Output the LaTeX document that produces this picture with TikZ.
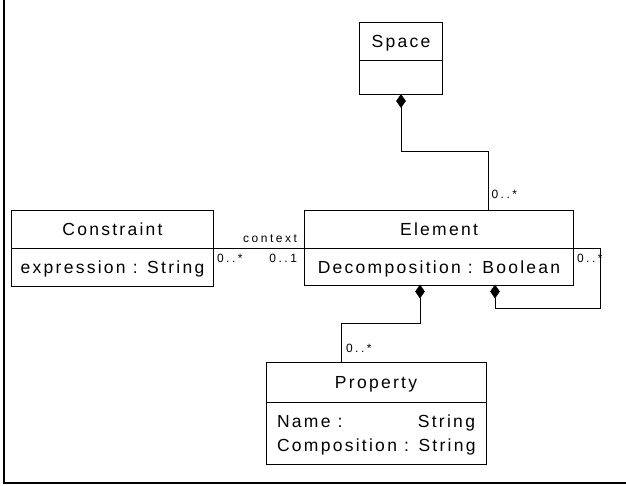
\documentclass[tikz,border=0pt]{standalone}
\usepackage{fontspec}
\setmainfont{Liberation Sans}
\newfontfamily\bigf[LetterSpace=13]{Liberation Sans}
\newfontfamily\smallf[LetterSpace=21]{Liberation Sans}
\usetikzlibrary{shapes.geometric}
\begin{document}
\begin{tikzpicture}[x=1pt,y=-1pt,
  comp/.style={draw, line width=1pt, inner sep=0pt, outer sep=0pt,
    text height=12.5pt, text depth=0pt, font=\bigf\fontsize{17.5}{19}\selectfont},
  attr/.style={inner sep=0pt, outer sep=0pt, font=\bigf\fontsize{17.5}{19}\selectfont},
  lbl/.style={inner sep=0pt, outer sep=0pt, font=\smallf\fontsize{12}{13}\selectfont},
  conn/.style={line width=1pt},
  dmd/.style={diamond, fill=black, draw=black, line width=0.5pt, inner sep=0pt, outer sep=0pt,
    minimum width=9pt, minimum height=13pt, anchor=north}]
\useasboundingbox (0,0) rectangle (626,486);
\fill[white] (0,0) rectangle (626,486);
\draw[line width=2pt] (4,0) -- (4,483) -- (626,483);

% Space
\node[comp, minimum width=83pt, minimum height=38pt] (spaceT) at (401,41.5) {Space};
\node[comp, minimum width=83pt, minimum height=34pt, anchor=north] (spaceB) at (spaceT.south) {};

% Element
\node[comp, minimum width=269pt, minimum height=37.5pt] (elemT) at (439,229.75) {Element};
\node[comp, minimum width=269pt, minimum height=36.5pt, anchor=north] (elemB) at (elemT.south) {Decomposition : Boolean};

% Constraint
\node[comp, minimum width=202pt, minimum height=37.5pt] (consT) at (112.5,229.75) {Constraint};
\node[comp, minimum width=202pt, minimum height=37.5pt, anchor=north] (consB) at (consT.south) {expression : String};

% Property
\node[comp, minimum width=220pt, minimum height=40pt] (propT) at (376,382.5) {Property};
\node[comp, minimum width=220pt, minimum height=61.5pt, anchor=north] (propB) at (propT.south) {};
\node[attr, anchor=base west] (pname) at (277,427.5) {Name :};
\node[attr, anchor=base east] (pstr) at (475,427.5) {String};
\node[attr, anchor=base west] (pcomp) at (277,451.5) {Composition : String};

% multiplicity labels
\node[lbl, anchor=base west] (m1) at (491.5,199) {0..*};
\node[lbl, anchor=base east] (ctx) at (297,242.5) {context};
\node[lbl, anchor=base west] (m2) at (217,262.5) {0..*};
\node[lbl, anchor=base east] (m3) at (297,262.5) {0..1};
\node[lbl, anchor=base west] (m4) at (577,262) {0..*};
\node[lbl, anchor=base west] (m5) at (346,352) {0..*};

% diamonds
\node[dmd] (d1) at (spaceB.south) {};
\node[dmd] (d2) at ([xshift=-19pt]elemB.south) {};
\node[dmd] (d3) at ([xshift=56pt]elemB.south) {};
\coordinate (elemTopA) at ([xshift=49pt]elemT.north);
\coordinate (propTopA) at ([xshift=-34.5pt]propT.north);

% connectors
\draw[conn] (d1.south) -- ++(0,44) -| (elemTopA);
\draw[conn] (consT.south east) -- (elemT.south west);
\draw[conn] (elemT.south east) -| ++(26.5,59.5) -| (d3.south);
\draw[conn] (d2.south) -- ++(0,25.5) -| (propTopA);
\end{tikzpicture}
\end{document}
